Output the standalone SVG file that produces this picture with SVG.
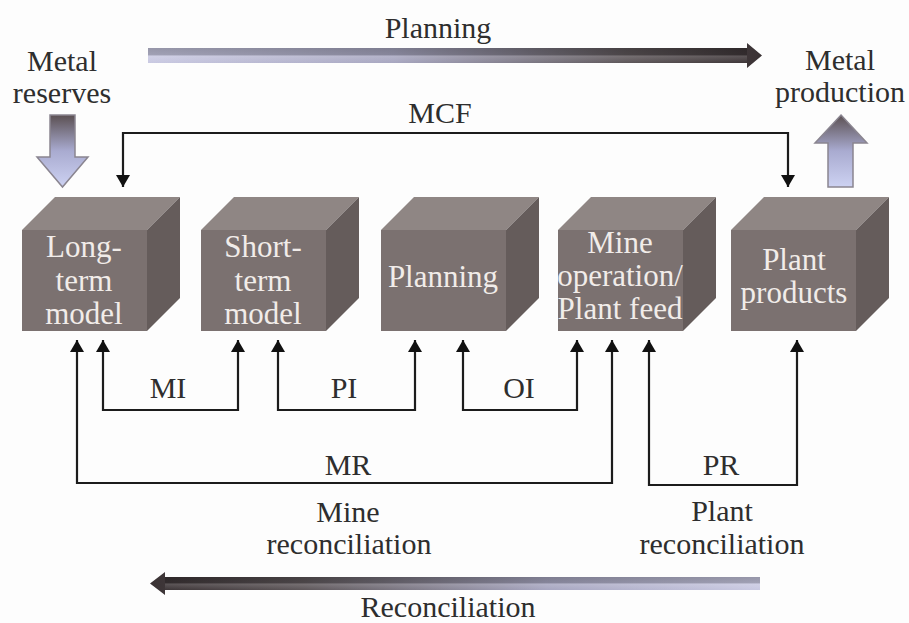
<svg xmlns="http://www.w3.org/2000/svg" width="909" height="623" viewBox="0 0 909 623">
<style>
  text { font-family: "Liberation Serif", "Times New Roman", serif; font-size: 30px; fill: #2e2e2e; text-anchor: middle; }
  .bl { fill: #f1ece9; font-size: 31px; }
  .front { fill: #7b7170; }
  .top { fill: #8f8684; }
  .side { fill: #655c5b; }
  .conn { fill: none; stroke: #1c1c1c; stroke-width: 2.2; marker-start: url(#ah); marker-end: url(#ah); }
  .big { stroke: #8a8590; stroke-width: 1.5; }
</style>
<defs>
  <marker id="ah" viewBox="0 0 12 14" refX="12" refY="7" markerWidth="12" markerHeight="14" markerUnits="userSpaceOnUse" orient="auto-start-reverse">
    <path d="M0,0 L12,7 L0,14 Z" fill="#111"/>
  </marker>
  <linearGradient id="gPlan" x1="0" y1="0" x2="1" y2="0">
    <stop offset="0" stop-color="#c9c9e2"/>
    <stop offset="0.4" stop-color="#a7a6c0"/>
    <stop offset="0.78" stop-color="#5d5659"/>
    <stop offset="1" stop-color="#3a3234"/>
  </linearGradient>
  <linearGradient id="gRec" x1="0" y1="0" x2="1" y2="0">
    <stop offset="0" stop-color="#3a3234"/>
    <stop offset="0.25" stop-color="#5d5659"/>
    <stop offset="0.65" stop-color="#a7a6c0"/>
    <stop offset="1" stop-color="#c9c9e2"/>
  </linearGradient>
  <linearGradient id="gShade" x1="0" y1="0" x2="0" y2="1">
    <stop offset="0" stop-color="#000" stop-opacity="0.25"/>
    <stop offset="0.45" stop-color="#000" stop-opacity="0.2"/>
    <stop offset="0.55" stop-color="#fff" stop-opacity="0.15"/>
    <stop offset="1" stop-color="#fff" stop-opacity="0"/>
  </linearGradient>
  <linearGradient id="gDown" x1="0" y1="0" x2="0" y2="1">
    <stop offset="0" stop-color="#5b5052"/>
    <stop offset="0.5" stop-color="#a9abd0"/>
    <stop offset="1" stop-color="#cdd2f2"/>
  </linearGradient>
</defs>
<rect width="909" height="623" fill="#fdfdfd"/>

<!-- Planning arrow -->
<g id="planning-arrow">
  <path d="M148,48 H747 V43 L762,55.5 L747,68 V63 H148 Z" fill="url(#gPlan)"/>
  <rect x="148" y="48" width="599" height="15" fill="url(#gShade)"/>
  <text x="438" y="38">Planning</text>
</g>

<!-- Metal reserves -->
<g id="metal-reserves">
  <text x="62" y="71">Metal</text>
  <text x="62" y="103">reserves</text>
  <path class="big" d="M50,115 H75 V157 H88 L62.5,187 L37,157 H50 Z" fill="url(#gDown)"/>
</g>

<!-- Metal production -->
<g id="metal-production">
  <text x="840" y="70">Metal</text>
  <text x="840" y="102">production</text>
  <path class="big" d="M841,115 L867,143 H853 V187 H828 V143 H815 Z" fill="url(#gDown)"/>
</g>

<!-- Boxes -->
<g id="long-term-model">
  <polygon class="top" points="22,230 55,197 180,197 147,230"/>
  <polygon class="side" points="147,230 180,197 180,298 147,331"/>
  <rect class="front" x="22" y="230" width="125" height="101"/>
  <text class="bl" x="84" y="257">Long-</text>
  <text class="bl" x="84" y="291">term</text>
  <text class="bl" x="84" y="324">model</text>
</g>
<g id="short-term-model">
  <polygon class="top" points="201,230 234,197 359,197 326,230"/>
  <polygon class="side" points="326,230 359,197 359,298 326,331"/>
  <rect class="front" x="201" y="230" width="125" height="101"/>
  <text class="bl" x="263" y="257">Short-</text>
  <text class="bl" x="263" y="291">term</text>
  <text class="bl" x="263" y="324">model</text>
</g>
<g id="planning">
  <polygon class="top" points="381,230 414,197 539,197 506,230"/>
  <polygon class="side" points="506,230 539,197 539,298 506,331"/>
  <rect class="front" x="381" y="230" width="125" height="101"/>
  <text class="bl" x="443" y="287">Planning</text>
</g>
<g id="mine-operation">
  <polygon class="top" points="558,230 591,197 716,197 683,230"/>
  <polygon class="side" points="683,230 716,197 716,298 683,331"/>
  <rect class="front" x="558" y="230" width="125" height="101"/>
  <text class="bl" x="620" y="253">Mine</text>
  <text class="bl" x="620" y="286">operation/</text>
  <text class="bl" x="620" y="319">Plant feed</text>
</g>
<g id="plant-products">
  <polygon class="top" points="731,230 764,197 889,197 856,230"/>
  <polygon class="side" points="856,230 889,197 889,298 856,331"/>
  <rect class="front" x="731" y="230" width="125" height="101"/>
  <text class="bl" x="794" y="270">Plant</text>
  <text class="bl" x="794" y="303">products</text>
</g>

<!-- Connectors -->
<g id="connectors">
  <path class="conn" d="M123,187 V133 H788 V187"/>
  <path class="conn" d="M103,340 V410 H238 V340"/>
  <path class="conn" d="M278,340 V410 H415 V340"/>
  <path class="conn" d="M463,340 V410 H577 V340"/>
  <path class="conn" d="M77,340 V483 H612 V340"/>
  <path class="conn" d="M649,340 V485 H797 V340"/>
</g>

<!-- Connector labels -->
<g id="labels">
  <text x="440" y="123">MCF</text>
  <text x="168" y="398">MI</text>
  <text x="344" y="398">PI</text>
  <text x="519" y="398">OI</text>
  <text x="348" y="475">MR</text>
  <text x="721" y="475">PR</text>
  <text x="348" y="522">Mine</text>
  <text x="349" y="554">reconciliation</text>
  <text x="722" y="521">Plant</text>
  <text x="722" y="554">reconciliation</text>
</g>

<!-- Reconciliation arrow -->
<g id="reconciliation-arrow">
  <path d="M760,577 H165 V572 L150,583.5 L165,595 V590 H760 Z" fill="url(#gRec)"/>
  <rect x="165" y="577" width="595" height="13" fill="url(#gShade)"/>
  <text x="448" y="617">Reconciliation</text>
</g>
</svg>
